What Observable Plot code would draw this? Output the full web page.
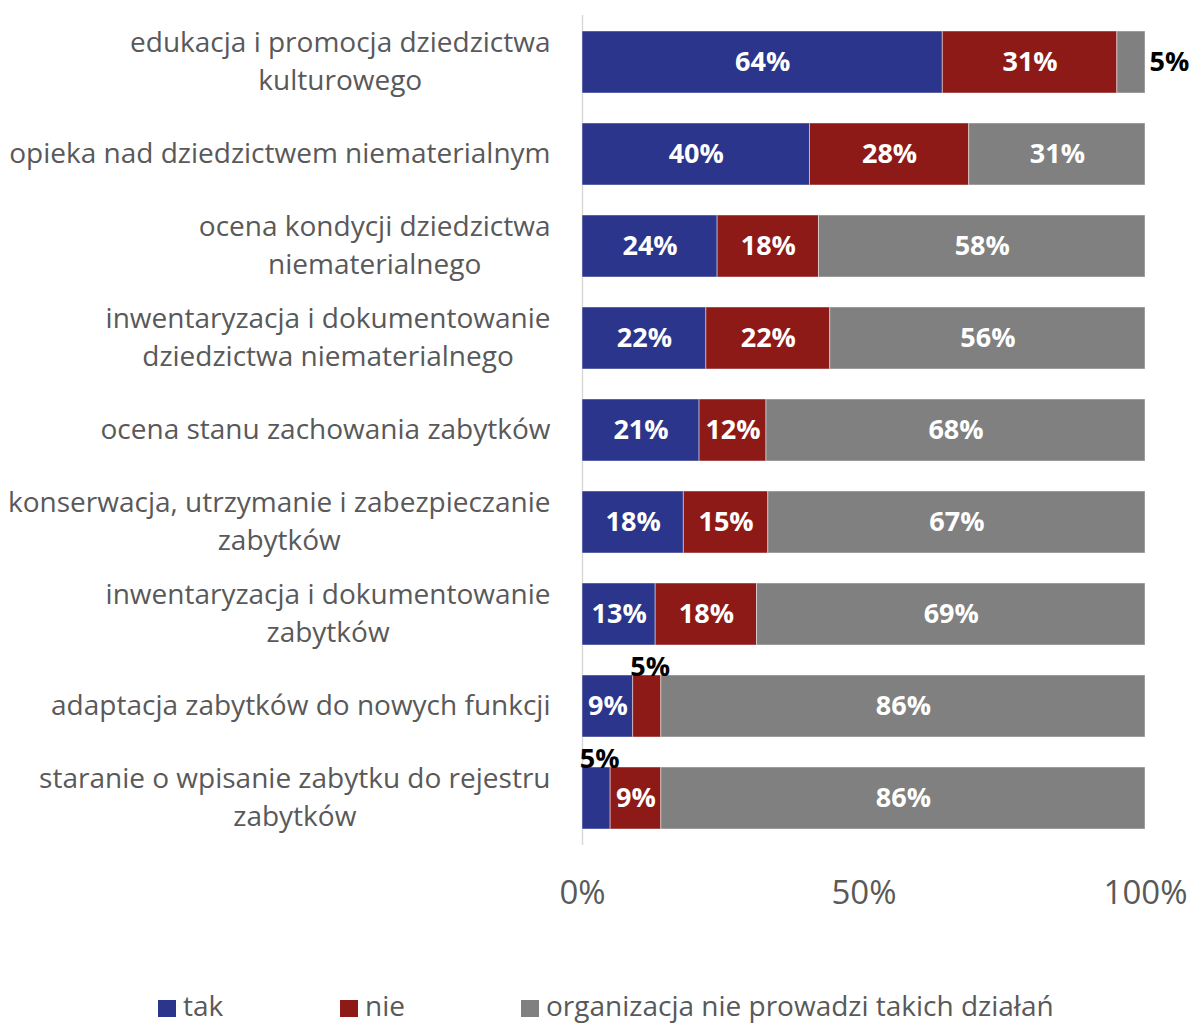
<!DOCTYPE html>
<html>
<head>
<meta charset="utf-8">
<script src="https://cdn.jsdelivr.net/npm/d3@7"></script>
<script src="https://cdn.jsdelivr.net/npm/@observablehq/plot@0.6"></script>
<style>
  html, body { margin: 0; padding: 0; background: white; }
  #wrap { width: 1192px; position: relative; }
  #legend { position: relative; width: 1192px; height: 63px; }
  .sw { position: absolute; width: 18px; height: 17px; }
  .lt { position: absolute; font-family: "Open Sans", sans-serif; font-size: 28px; line-height: 28px; color: #595959; white-space: nowrap; }
</style>
</head>
<body>
<div id="wrap"></div>
<script>
const categories = [
  "edukacja i promocja dziedzictwa\nkulturowego",
  "opieka nad dziedzictwem niematerialnym",
  "ocena kondycji dziedzictwa\nniematerialnego",
  "inwentaryzacja i dokumentowanie\ndziedzictwa niematerialnego",
  "ocena stanu zachowania zabytków",
  "konserwacja, utrzymanie i zabezpieczanie\nzabytków",
  "inwentaryzacja i dokumentowanie\nzabytków",
  "adaptacja zabytków do nowych funkcji",
  "staranie o wpisanie zabytku do rejestru\nzabytków"
];
const series = ["tak", "nie", "organizacja nie prowadzi takich działań"];
const tak  = [64, 40, 24, 22, 21, 18, 13, 9, 5];
const nie  = [31, 28, 18, 22, 12, 15, 18, 5, 9];
const brak = [5, 31, 58, 56, 68, 67, 69, 86, 86];
const xTicks = [0, 0.5, 1];
const colors = ["#2A358B", "#8D1A16", "#808080"];

const data = categories.flatMap((c, i) => [
  {category: c, series: series[0], value: tak[i]},
  {category: c, series: series[1], value: nie[i]},
  {category: c, series: series[2], value: brak[i]}
]);

const labelFont = "'Open Sans', sans-serif";
const ctx = document.createElement("canvas").getContext("2d");
ctx.font = "28px 'Open Sans'";
const measure = s => ctx.measureText(s).width;

const small = 8;
const pct = d => `${d.value}%`;

const categoryMarks = categories.map(c => {
  const w = Math.max(...c.split("\n").map(measure));
  return Plot.text([c], {
    y: d => d, text: d => d, frameAnchor: "left", dx: -32 - w / 2, dy: -4,
    textAnchor: "middle", lineAnchor: "middle", lineHeight: 38 / 28,
    fontSize: 28, fill: "#595959", fontFamily: labelFont
  });
});

const chart = Plot.plot({
  width: 1192,
  height: 960,
  marginLeft: 582,
  marginRight: 47,
  marginTop: 15,
  marginBottom: 115,
  x: {domain: [0, 1], axis: null},
  y: {domain: categories, paddingInner: 0.328, paddingOuter: 0.164, axis: null},
  color: {domain: series, range: colors},
  style: {fontFamily: labelFont, background: "white", overflow: "visible"},
  marks: [
    Plot.ruleX([0], {stroke: "#d9d9d9", strokeWidth: 1.5}),
    Plot.barX(data, Plot.stackX({
      x: "value", y: "category", fill: "series", offset: "normalize",
      stroke: "white", strokeOpacity: 0.45, strokeWidth: 1
    })),
    Plot.axisX({
      ticks: xTicks, tickFormat: d3.format(".0%"), tickSize: 0, tickPadding: 35,
      fontSize: 33, fontFamily: labelFont, color: "#595959", label: null
    }),
    Plot.text(data, Plot.stackX({
      x: "value", y: "category", offset: "normalize",
      text: d => d.value >= small ? pct(d) : "",
      fill: "white", fontWeight: "bold", fontSize: 27, fontFamily: labelFont
    })),
    Plot.text(data, Plot.stackX2({
      x: "value", y: "category", offset: "normalize",
      text: d => d.value < small && d.series === series[2] ? pct(d) : "",
      textAnchor: "start", dx: 4,
      fill: "black", fontWeight: "bold", fontSize: 27, fontFamily: labelFont
    })),
    Plot.text(data, Plot.stackX({
      x: "value", y: "category", offset: "normalize",
      text: d => d.value < small && d.series !== series[2] ? pct(d) : "",
      dx: 3, dy: -39,
      fill: "black", fontWeight: "bold", fontSize: 27, fontFamily: labelFont
    })),
    ...categoryMarks
  ]
});

const wrap = document.getElementById("wrap");
wrap.appendChild(chart);

const legend = document.createElement("div");
legend.id = "legend";
const items = [
  {sw: 158, tx: 183},
  {sw: 340, tx: 365},
  {sw: 521, tx: 546}
];
series.forEach((s, i) => {
  const sq = document.createElement("div");
  sq.className = "sw";
  sq.style.left = items[i].sw + "px";
  sq.style.top = "40px";
  sq.style.background = colors[i];
  legend.appendChild(sq);
  const t = document.createElement("span");
  t.className = "lt";
  t.style.left = items[i].tx + "px";
  t.style.top = "31px";
  t.textContent = s;
  legend.appendChild(t);
});
wrap.appendChild(legend);
</script>
</body>
</html>
